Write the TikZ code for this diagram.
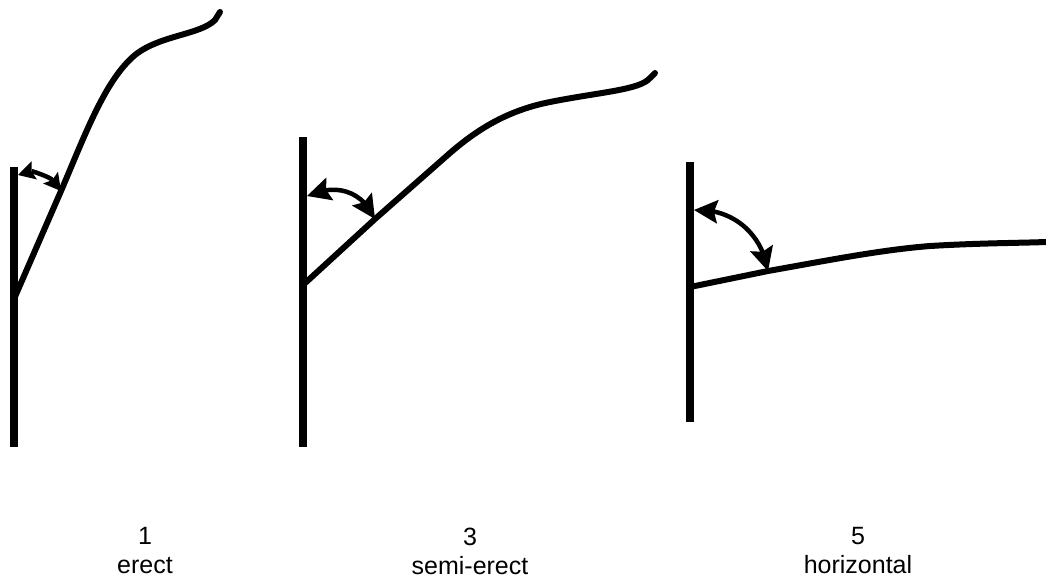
\documentclass[tikz,border=0pt]{standalone}
\usepackage{fontspec}
\setmainfont{Liberation Sans}
\usetikzlibrary{arrows.meta,bending}
\begin{document}
\begin{tikzpicture}[x=1pt,y=-1pt,
  stem/.style={line width=7.5pt},
  branch/.style={line width=6pt,line cap=round},
  angarrow/.style={line width=4.5pt,{Stealth[length=24pt,width=24pt,inset=4pt,line width=0pt]}-{Stealth[length=24pt,width=24pt,inset=4pt,line width=0pt]}},
  smallarrow/.style={line width=4.5pt,{Stealth[length=17pt,width=19pt,inset=3pt,line width=0pt,quick]}-{Stealth[length=17pt,width=19pt,inset=3pt,line width=0pt,quick]}},
  lbl/.style={font=\fontsize{25}{29}\selectfont,align=center}]
\useasboundingbox (0,0) rectangle (1046,582);
% plant 1
\coordinate (s1t) at (14,167); \coordinate (s1b) at (14,447);
\coordinate (b1a) at (14,299);
\coordinate (b1m) at (61,191);
\coordinate (b1e) at (220,12);
\draw[stem] (s1t) -- (s1b);
\draw[branch] (b1a) -- (b1m) .. controls (85,135) and (105,80) .. (135,55)
  .. controls (160,35) and (200,35) .. (215,20) -- (b1e);
\coordinate (a1s) at (18,175);
\draw[smallarrow] (a1s) .. controls (32,171) and (50,177) .. (b1m);
% plant 2
\coordinate (s2t) at (303,137); \coordinate (s2b) at (303,447);
\coordinate (b2a) at (303,285);
\coordinate (b2m) at (375,219);
\coordinate (b2e) at (655,73);
\draw[stem] (s2t) -- (s2b);
\draw[branch] (b2a) -- (b2m) -- (450,153) .. controls (480,127) and (510,110) .. (550,102)
  .. controls (600,92) and (640,90) .. (650,78) -- (b2e);
\coordinate (a2s) at (307,196);
\draw[angarrow] (a2s) .. controls (335,183) and (362,190) .. (b2m);
% plant 3
\coordinate (s3t) at (690,162); \coordinate (s3b) at (690,422);
\coordinate (b3a) at (690,287);
\coordinate (b3m) at (768,271);
\coordinate (b3e) at (1046,242);
\draw[stem] (s3t) -- (s3b);
\draw[branch] (b3a) -- (b3m) .. controls (830,260) and (880,250) .. (930,246)
  .. controls (980,243) and (1020,243) .. (b3e);
\coordinate (a3s) at (694,210);
\draw[angarrow] (a3s) .. controls (732,208) and (762,233) .. (b3m);
% labels
\node[lbl] (l1) at (145,551) {1\\erect};
\node[lbl] (l3) at (470,551) {3\\semi-erect};
\node[lbl] (l5) at (858,551) {5\\horizontal};
\end{tikzpicture}
\end{document}
